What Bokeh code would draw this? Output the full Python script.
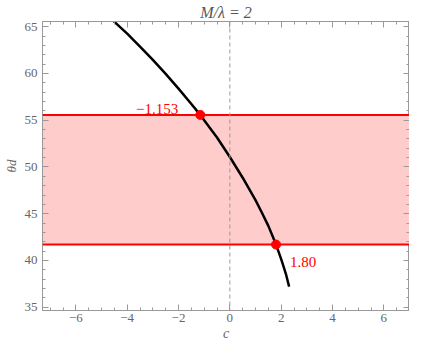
from bokeh.plotting import figure
from bokeh.models import (LinearAxis, FixedTicker, BoxAnnotation, Span, ColumnDataSource, Range1d)
from bokeh.core.properties import value
from bokeh.embed import file_html
from bokeh.resources import INLINE

# ---- data ----
curve_c = [-4.53, -4.0, -3.5, -3.0, -2.5, -2.0, -1.5, -1.153, -0.5, 0.0, 0.5, 1.0, 1.25, 1.5, 1.8, 2.0, 2.1, 2.2, 2.31]
curve_theta = [65.6, 64.26, 62.88, 61.45, 59.96, 58.38, 56.73, 55.57, 53.15, 51.07, 48.85, 46.45, 45.1, 43.7, 41.7, 40.15, 39.3, 38.4, 37.2]
band_levels = [41.7, 55.57]
cross_c = [-1.153, 1.80]
cross_theta = [55.57, 41.7]
cross_labels = ["\u22121.153", "1.80"]
x_ticks = [-6, -4, -2, 0, 2, 4, 6]
y_ticks = [35, 40, 45, 50, 55, 60, 65]
x_range = (-7.3, 7.0)
y_range = (34.65, 65.56)

FONT = "Liberation Serif"
AX = "#999999"
LAB = "#666666"

p = figure(width=409, height=343, output_backend="svg", toolbar_location=None,
           x_range=Range1d(*x_range), y_range=Range1d(*y_range),
           title="M/\u03bb = 2", min_border_left=33, min_border_right=0,
           min_border_top=0, min_border_bottom=0)
p.grid.visible = False
p.outline_line_color = AX
p.background_fill_color = "white"

p.title.align = "center"
p.title.text_font = FONT
p.title.text_font_style = "italic"
p.title.text_font_size = "16px"
p.title.text_color = "#555555"
p.title.standoff = 2

def style_axis(ax, ticks, minor, show_labels):
    ax.ticker = FixedTicker(ticks=ticks, minor_ticks=minor)
    ax.axis_line_color = AX
    ax.major_tick_line_color = AX
    ax.minor_tick_line_color = AX
    ax.major_tick_in = 6
    ax.major_tick_out = 0
    ax.minor_tick_in = 3
    ax.minor_tick_out = 0
    ax.major_label_text_font = FONT
    if show_labels:
        ax.major_label_text_color = LAB
        ax.major_label_text_font_size = "13px"
        ax.major_label_overrides = {t: (str(t) if t >= 0 else "\u2212" + str(-t)) for t in ticks}
    else:
        ax.major_label_text_color = None
        ax.major_label_text_font_size = "1px"
        ax.major_label_standoff = 0

xminor = [v / 2 for v in range(-14, 15) if v % 4 != 0]
yminor = [v for v in range(35, 66) if v % 5 != 0]

for ax in p.xaxis:
    style_axis(ax, x_ticks, xminor, True)
    ax.major_label_standoff = 3
    ax.axis_label = "c"
    ax.axis_label_text_font = FONT
    ax.axis_label_text_font_style = "italic"
    ax.axis_label_text_font_size = "14px"
    ax.axis_label_text_color = LAB
    ax.axis_label_standoff = 1
for ax in p.yaxis:
    style_axis(ax, y_ticks, yminor, True)
    ax.major_label_standoff = 5
    ax.axis_label = "\u03b8d"
    ax.axis_label_text_font = FONT
    ax.axis_label_text_font_style = "italic"
    ax.axis_label_text_font_size = "13px"
    ax.axis_label_text_color = LAB
    ax.axis_label_standoff = 3

top = LinearAxis()
style_axis(top, x_ticks, xminor, False)
p.add_layout(top, "above")
right = LinearAxis()
style_axis(right, y_ticks, yminor, False)
p.add_layout(right, "right")

# band
p.add_layout(BoxAnnotation(bottom=band_levels[0], top=band_levels[1], fill_color="#FFCCCC",
                           fill_alpha=1.0, line_color=None, level="underlay"))
for lv in band_levels:
    p.add_layout(Span(location=lv, dimension="width", line_color="#FF0000", line_width=2))
p.add_layout(Span(location=0, dimension="height", line_color="#999999", line_width=1,
                  line_dash="4 3"))

p.line(curve_c, curve_theta, line_color="black", line_width=2.5)

src = ColumnDataSource(dict(x=cross_c, y=cross_theta, t=cross_labels,
                            xo=[-22, 14], yo=[-6, 17], al=["right", "left"]))
p.scatter("x", "y", source=src, size=9, color="#FF0000")
p.text("x", "y", text="t", source=src, x_offset="xo", y_offset="yo", text_align="al",
       text_baseline="alphabetic", text_font=value(FONT), text_font_size="15px",
       text_color="#FF0000")

open("out.html", "w").write(file_html(p, INLINE))
